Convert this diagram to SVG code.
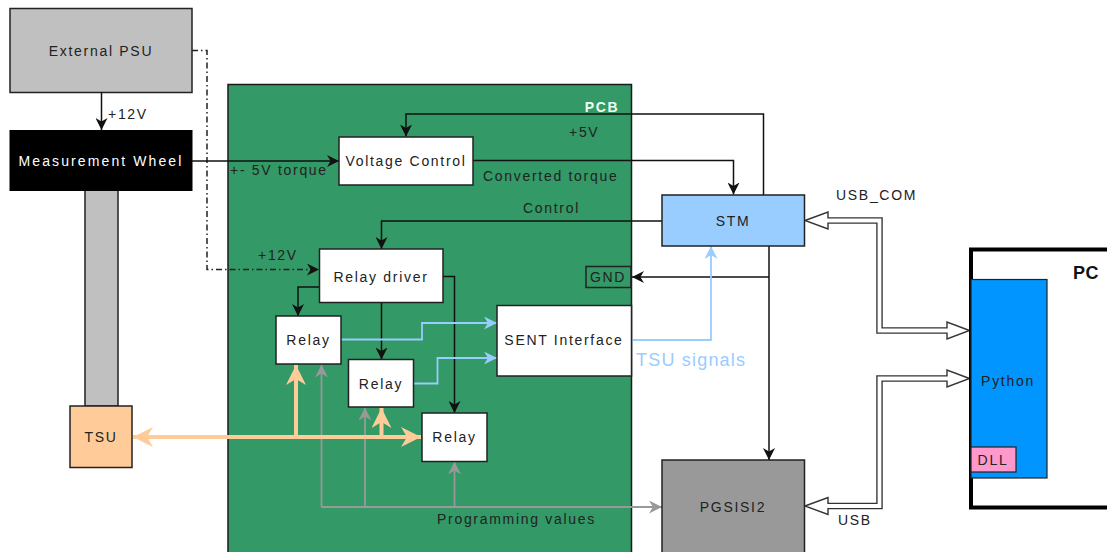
<svg xmlns="http://www.w3.org/2000/svg" width="1107" height="552" viewBox="0 0 1107 552">
<style>
text{font-family:"Liberation Sans",Arial,sans-serif;font-size:14px;fill:#222;letter-spacing:1.7px}
.c{text-anchor:middle;dominant-baseline:central}
.box{stroke:#222;stroke-width:1.5}
.w{fill:#fff}
.blk{fill:none;stroke:#111;stroke-width:1.5}
.blue{fill:none;stroke:#99ccff;stroke-width:1.8}
.gray{fill:none;stroke:#999;stroke-width:1.8}
.org{fill:none;stroke:#ffcc99;stroke-width:4}
.dd{fill:none;stroke:#222;stroke-width:1.5;stroke-dasharray:6 3 1.5 3}
.dbo{fill:none;stroke:#333;stroke-width:6.5}
.dbi{fill:none;stroke:#fff;stroke-width:3.8}
.head{fill:#fff;stroke:#333;stroke-width:1.4}
</style>
<defs>
<marker id="ak" viewBox="0 0 10 10" refX="10" refY="5" markerWidth="12" markerHeight="12" markerUnits="userSpaceOnUse" orient="auto"><path d="M0,0 L10,5 L0,10 L3,5z" fill="#111"/></marker>
<marker id="ab" viewBox="0 0 10 10" refX="10" refY="5" markerWidth="14" markerHeight="13" markerUnits="userSpaceOnUse" orient="auto"><path d="M0,0 L10,5 L0,10 L3,5z" fill="#99ccff"/></marker>
<marker id="ag" viewBox="0 0 10 10" refX="10" refY="5" markerWidth="13" markerHeight="13" markerUnits="userSpaceOnUse" orient="auto"><path d="M0,0 L10,5 L0,10 L3,5z" fill="#999"/></marker>
<marker id="ao" viewBox="0 0 10 10" refX="10" refY="5" markerWidth="21" markerHeight="20" markerUnits="userSpaceOnUse" orient="auto"><path d="M0,0 L10,5 L0,10 L3,5z" fill="#ffcc99"/></marker>
<marker id="aos" viewBox="0 0 10 10" refX="0" refY="5" markerWidth="21" markerHeight="20" markerUnits="userSpaceOnUse" orient="auto"><path d="M10,0 L0,5 L10,10 L7,5z" fill="#ffcc99"/></marker>
</defs>

<g id="pcb">
<rect x="228" y="84.5" width="403.5" height="470" fill="#339966" stroke="#1a1a1a" stroke-width="1.5"/>
<text x="602" y="107" class="c" style="fill:#eefff0;font-weight:bold">PCB</text>
</g>

<g id="external-psu">
<rect x="10" y="8.5" width="182" height="84" fill="#c0c0c0" class="box"/>
<text x="101" y="51" class="c">External PSU</text>
</g>
<g id="shaft">
<rect x="85" y="190" width="33" height="216" fill="#c0c0c0" class="box"/>
</g>
<g id="measurement-wheel">
<rect x="10" y="130.5" width="182" height="60" fill="#000" stroke="#000"/>
<text x="101" y="161" class="c" style="fill:#fff;letter-spacing:2.1px">Measurement Wheel</text>
</g>
<g id="tsu">
<rect x="70" y="406" width="62" height="61.5" fill="#ffcc99" class="box"/>
<text x="101" y="437" class="c">TSU</text>
</g>

<g id="connectors">
<path class="blk" d="M101.5,92.5 V130" marker-end="url(#ak)"/>
<path class="dd" d="M192,50.5 H207 V269.5 H319" marker-end="url(#ak)"/>
<path class="blk" d="M192,161 H339" marker-end="url(#ak)"/>
<path class="blk" d="M763.5,195 V114 H406 V136.5" marker-end="url(#ak)"/>
<path class="blk" d="M473,160.5 H733.5 V194.5" marker-end="url(#ak)"/>
<path class="blk" d="M662,221 H381.5 V249" marker-end="url(#ak)"/>
<path class="blk" d="M769,246 V460" marker-end="url(#ak)"/>
<path class="blk" d="M769,277 H632" marker-end="url(#ak)"/>
<path class="blk" d="M319,287 H298 V316" marker-end="url(#ak)"/>
<path class="blk" d="M381.5,302 V359.5" marker-end="url(#ak)"/>
<path class="blk" d="M443,276.5 H454.5 V413" marker-end="url(#ak)"/>
<path class="blue" d="M341,339.5 H422 V323 H497" marker-end="url(#ab)"/>
<path class="blue" d="M414,383.5 H437.5 V358 H497" marker-end="url(#ab)"/>
<path class="blue" d="M632,340 H711 V246" marker-end="url(#ab)"/>
<path class="gray" d="M321.5,507 H662" marker-end="url(#ag)"/>
<path class="gray" d="M321.5,507 V364.5" marker-end="url(#ag)"/>
<path class="gray" d="M365,507 V407.5" marker-end="url(#ag)"/>
<path class="gray" d="M454.5,507 V461.5" marker-end="url(#ag)"/>
<path class="org" d="M133,437 H421" marker-start="url(#aos)" marker-end="url(#ao)"/>
<path class="org" d="M296,437 V365" marker-end="url(#ao)"/>
<path class="org" d="M381.5,437 V408" marker-end="url(#ao)"/>
<path class="dbo" d="M826,220.5 H879.5 V330.5 H950"/>
<path class="dbo" d="M826,506 H879.5 V378.5 H950"/>
<polygon class="head" points="805,220.5 828,212 828,229"/>
<polygon class="head" points="969.5,330.5 947,322 947,339"/>
<polygon class="head" points="805,506 828,497.5 828,514.5"/>
<polygon class="head" points="969.5,378.5 947,370 947,387"/>
<path class="dbi" d="M826.5,220.5 H879.5 V330.5 H948.5"/>
<path class="dbi" d="M826.5,506 H879.5 V378.5 H948.5"/>
<text x="108" y="114" style="dominant-baseline:central">+12V</text>
<text x="258" y="255" style="dominant-baseline:central">+12V</text>
<text x="230" y="170" style="dominant-baseline:central">+- 5V torque</text>
<text x="569" y="132" style="dominant-baseline:central">+5V</text>
<text x="483" y="176" style="dominant-baseline:central">Converted torque</text>
<text x="523" y="208" style="dominant-baseline:central">Control</text>
<text x="636" y="360" style="dominant-baseline:central;fill:#99ccff;font-size:18px;letter-spacing:1.2px">TSU signals</text>
<text x="437" y="519" style="dominant-baseline:central">Programming values</text>
<text x="836" y="195" style="dominant-baseline:central">USB_COM</text>
<text x="838" y="520" style="dominant-baseline:central">USB</text>
</g>

<g id="voltage-control">
<rect x="339" y="137" width="134" height="48" class="box w"/>
<text x="406" y="161" class="c">Voltage Control</text>
</g>
<g id="relay-driver">
<rect x="319.5" y="249" width="123.5" height="53.5" class="box w"/>
<text x="381" y="277" class="c">Relay driver</text>
</g>
<g id="gnd">
<rect x="586" y="266.5" width="45" height="21" fill="none" class="box"/>
<text x="608" y="277" class="c">GND</text>
</g>
<g id="relay1">
<rect x="276" y="316" width="65" height="48" class="box w"/>
<text x="308.5" y="340" class="c">Relay</text>
</g>
<g id="relay2">
<rect x="348.5" y="359.5" width="65" height="47.5" class="box w"/>
<text x="381" y="384" class="c">Relay</text>
</g>
<g id="relay3">
<rect x="422" y="413" width="65" height="48.5" class="box w"/>
<text x="454.5" y="437" class="c">Relay</text>
</g>
<g id="sent-interface">
<rect x="497" y="305.5" width="134.5" height="70.5" class="box w"/>
<text x="564" y="340" class="c">SENT Interface</text>
</g>
<g id="stm">
<rect x="662" y="195" width="142.5" height="51" fill="#99ccff" class="box"/>
<text x="733" y="221" class="c">STM</text>
</g>
<g id="pgsisi2">
<rect x="662" y="460" width="142.5" height="100" fill="#999999" class="box"/>
<text x="733" y="507" class="c">PGSISI2</text>
</g>
<g id="pc">
<rect x="971" y="249.5" width="150" height="258" fill="#fff" stroke="#000" stroke-width="4"/>
<text x="1086" y="273" class="c" style="font-weight:bold;font-size:18px;fill:#111;letter-spacing:0.5px">PC</text>
</g>
<g id="python">
<rect x="971" y="279.5" width="76" height="198.5" fill="#0095ff" stroke="#222" stroke-width="1.2"/>
<text x="1008" y="381" class="c">Python</text>
</g>
<g id="dll">
<rect x="971" y="447" width="45" height="25" fill="#ff99cc" stroke="#222" stroke-width="1.2"/>
<text x="993" y="460" class="c">DLL</text>
</g>
</svg>
